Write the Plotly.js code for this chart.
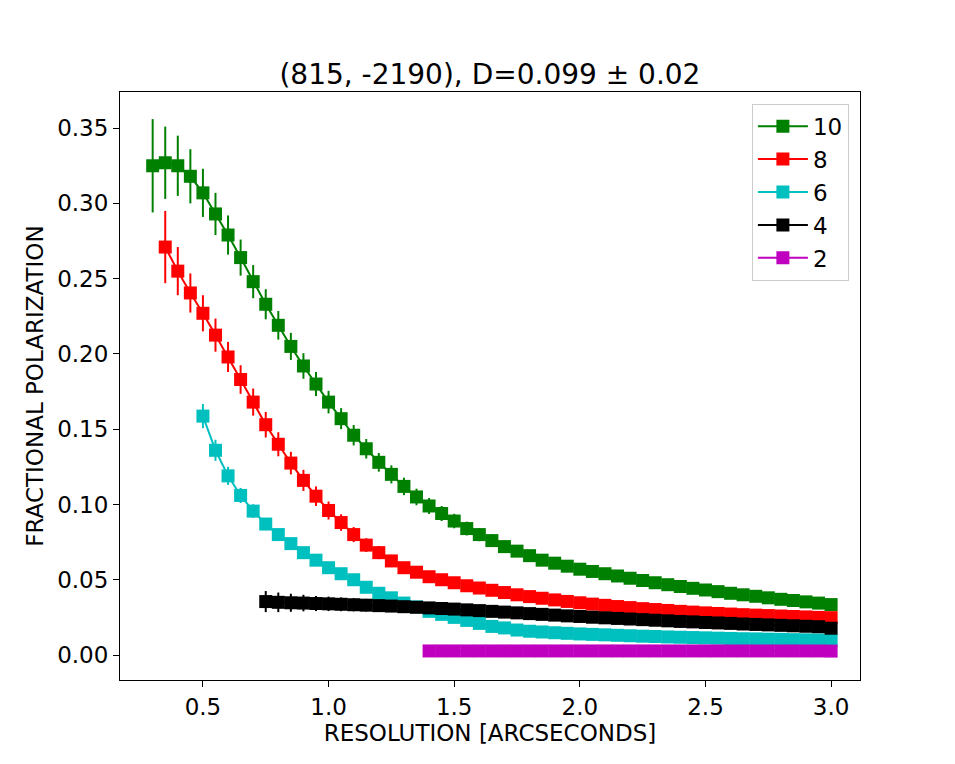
<!DOCTYPE html>
<html>
<head>
<meta charset="utf-8">
<script src="https://cdn.plot.ly/plotly-3.0.1.min.js"></script>
<style>
  body { margin: 0; background: #fff; }
  #chart { width: 955px; height: 764px; }
</style>
</head>
<body>
<div id="chart"></div>
<script>
// resolution grid, arcseconds (0.30 .. 3.00 step 0.05)
const res = [0.30,0.35,0.40,0.45,0.50,0.55,0.60,0.65,0.70,0.75,0.80,0.85,0.90,0.95,1.00,
  1.05,1.10,1.15,1.20,1.25,1.30,1.35,1.40,1.45,1.50,1.55,1.60,1.65,1.70,1.75,1.80,1.85,1.90,1.95,2.00,
  2.05,2.10,2.15,2.20,2.25,2.30,2.35,2.40,2.45,2.50,2.55,2.60,2.65,2.70,2.75,2.80,2.85,2.90,2.95,3.00];

// series "10" starts at 0.30
const p10 = [0.325,0.327,0.325,0.318,0.307,0.293,0.279,0.264,0.248,0.233,0.219,0.205,0.192,0.180,0.168,
  0.157,0.146,0.137,0.128,0.120,0.112,0.105,0.099,0.094,0.089,0.084,0.080,0.076,0.072,0.069,0.066,0.063,0.061,0.059,0.057,
  0.0555,0.054,0.0525,0.051,0.0495,0.048,0.0467,0.0455,0.0443,0.0432,0.0421,0.041,0.040,0.039,0.038,0.037,0.0362,0.0353,0.0345,0.0335];
const e10 = [0.031,0.024,0.020,0.018,0.016,0.014,0.013,0.012,0.011,0.010,0.0095,0.009,0.0085,0.008,0.0075,
  0.007,0.0068,0.0065,0.0062,0.006,0.0058,0.0055,0.0053,0.005,0.0048,0.0046,0.0044,0.0042,0.004,0.0038,0.0036,0.0034,0.0032,0.003,0.003,
  0.0028,0.0027,0.0026,0.0025,0.0024,0.0023,0.0022,0.0021,0.002,0.002,0.0019,0.0018,0.0017,0.0016,0.0015,0.0015,0.0014,0.0013,0.0012,0.0012];

// series "8" starts at 0.35
const p8 = [0.271,0.255,0.2405,0.227,0.2125,0.198,0.183,0.168,0.153,0.140,0.1275,0.116,0.1055,0.096,
  0.088,0.080,0.073,0.068,0.0625,0.058,0.055,0.052,0.050,0.048,0.046,0.0445,0.043,0.0415,0.040,0.0388,0.0377,0.0366,0.0356,0.0347,
  0.0338,0.033,0.0322,0.0315,0.0308,0.0302,0.0296,0.029,0.0285,0.028,0.0276,0.0272,0.0268,0.0265,0.0262,0.0259,0.0256,0.0253,0.025,0.0248];
const e8 = [0.024,0.016,0.013,0.012,0.011,0.010,0.0095,0.009,0.0085,0.008,0.0075,0.007,0.0065,0.006,
  0.0055,0.005,0.0046,0.0043,0.004,0.0037,0.0034,0.0032,0.003,0.0028,0.0026,0.0024,0.0022,0.002,0.0019,0.0018,0.0017,0.0016,0.0015,0.0014,
  0.0013,0.0012,0.0012,0.0011,0.0011,0.001,0.001,0.001,0.0009,0.0009,0.0009,0.0008,0.0008,0.0008,0.0008,0.0007,0.0007,0.0007,0.0007,0.0007];

// series "6" starts at 0.50
const p6 = [0.1587,0.136,0.119,0.106,0.0956,0.087,0.080,0.074,0.068,0.063,0.058,
  0.054,0.050,0.045,0.041,0.038,0.0345,0.032,0.029,0.027,0.025,0.023,0.021,0.019,0.018,0.0166,0.0158,0.0153,0.0148,0.0144,0.014,
  0.0137,0.0134,0.0131,0.0128,0.0125,0.0123,0.012,0.0118,0.0116,0.0114,0.0112,0.011,0.0108,0.0107,0.0105,0.0104,0.0102,0.0101,0.01,0.0097];
const e6 = [0.008,0.007,0.006,0.005,0.0045,0.004,0.0035,0.003,0.0028,0.0025,0.0022,
  0.002,0.0018,0.0016,0.0015,0.0014,0.0013,0.0012,0.0011,0.001,0.001,0.0009,0.0009,0.0008,0.0008,0.0008,0.0007,0.0007,0.0007,0.0006,0.0006,
  0.0006,0.0006,0.0005,0.0005,0.0005,0.0005,0.0005,0.0005,0.0004,0.0004,0.0004,0.0004,0.0004,0.0004,0.0004,0.0004,0.0004,0.0004,0.0004,0.0004];

// series "4" starts at 0.75
const p4 = [0.0355,0.035,0.0347,0.0345,0.0342,0.034,0.0337,0.0334,0.0331,0.0328,0.0325,0.0321,0.0317,0.0313,0.0309,0.0305,
  0.030,0.0295,0.029,0.0285,0.028,0.0275,0.027,0.0265,0.026,0.0256,0.0251,0.0247,0.0243,0.0239,0.0235,0.0231,0.0227,0.0223,0.022,0.0216,
  0.0213,0.021,0.0206,0.0203,0.020,0.0197,0.0194,0.0191,0.0188,0.0178];
const e4 = [0.007,0.0065,0.006,0.0055,0.005,0.0048,0.0046,0.0044,0.0042,0.004,0.0038,0.0036,0.0034,0.0032,0.003,0.0028,
  0.0026,0.0024,0.0022,0.002,0.0019,0.0018,0.0017,0.0016,0.0015,0.0014,0.0013,0.0012,0.0012,0.0011,0.0011,0.001,0.001,0.001,0.0009,0.0009,
  0.0009,0.0008,0.0008,0.0008,0.0008,0.0007,0.0007,0.0007,0.0007,0.0007];

// series "2" starts at 1.40
const p2 = [0.0027,0.0027,0.0027,0.0027,0.0027,0.0027,0.0027,0.0027,0.0027,0.0027,0.0027,0.0027,0.0027,0.0027,0.0027,0.0027,0.0027,
  0.0027,0.0027,0.0027,0.0027,0.0027,0.0027,0.0027,0.0027,0.0027,0.0027,0.0027,0.0027,0.0027,0.0027,0.0027,0.0026];
const e2 = [0.0005,0.0005,0.0005,0.0005,0.0005,0.0005,0.0005,0.0005,0.0005,0.0005,0.0005,0.0005,0.0005,0.0005,0.0005,0.0005,0.0005,
  0.0005,0.0005,0.0005,0.0005,0.0005,0.0005,0.0005,0.0005,0.0005,0.0005,0.0005,0.0005,0.0005,0.0005,0.0005,0.0005];

const series = [
  {name: "10", color: "#008000", y: p10, e: e10},
  {name: "8",  color: "#ff0000", y: p8,  e: e8},
  {name: "6",  color: "#00bfbf", y: p6,  e: e6},
  {name: "4",  color: "#000000", y: p4,  e: e4},
  {name: "2",  color: "#bf00bf", y: p2,  e: e2},
];

const data = series.map(s => ({
  type: "scatter",
  mode: "lines+markers",
  name: s.name,
  x: res.slice(res.length - s.y.length),
  y: s.y,
  line: {color: s.color, width: 2},
  marker: {symbol: "square", size: 13, color: s.color},
  error_y: {type: "data", array: s.e, visible: true, color: s.color, thickness: 2, width: 0},
}));

const font = {family: "DejaVu Sans, sans-serif", color: "#000"};

Plotly.newPlot("chart", data, {
  width: 955,
  height: 764,
  margin: {l: 120, r: 95, t: 92, b: 84},
  paper_bgcolor: "#fff",
  plot_bgcolor: "#fff",
  font: Object.assign({size: 23}, font),
  title: {text: "(815, -2190), D=0.099 ± 0.02", x: 0.513, xanchor: "center", y: 0.89, yanchor: "bottom",
    font: Object.assign({size: 28}, font)},
  xaxis: {
    range: [0.17, 3.115],
    tickvals: [0.5, 1.0, 1.5, 2.0, 2.5, 3.0],
    ticktext: ["0.5", "1.0", "1.5", "2.0", "2.5", "3.0"],
    ticks: "outside", ticklen: 6, tickcolor: "#000",
    tickfont: Object.assign({size: 23}, font),
    showgrid: false, zeroline: false,
    showline: true, mirror: true, linecolor: "#000", linewidth: 1,
    title: {text: "RESOLUTION [ARCSECONDS]", standoff: 2, font: Object.assign({size: 23}, font)},
  },
  yaxis: {
    range: [-0.0166, 0.374],
    tickvals: [0, 0.05, 0.10, 0.15, 0.20, 0.25, 0.30, 0.35],
    ticktext: ["0.00", "0.05", "0.10", "0.15", "0.20", "0.25", "0.30", "0.35"],
    ticks: "outside", ticklen: 6, tickcolor: "#000",
    tickfont: Object.assign({size: 23}, font),
    showgrid: false, zeroline: false,
    showline: true, mirror: true, linecolor: "#000", linewidth: 1,
    title: {text: "FRACTIONAL POLARIZATION", standoff: 7, font: Object.assign({size: 23}, font)},
  },
  showlegend: true,
  legend: {
    x: 0.985, xanchor: "right", y: 0.98, yanchor: "top",
    bgcolor: "rgba(255,255,255,0.8)", bordercolor: "#ccc", borderwidth: 1,
    font: Object.assign({size: 23}, font),
    itemwidth: 50,
  },
}, {displayModeBar: false});
</script>
</body>
</html>
